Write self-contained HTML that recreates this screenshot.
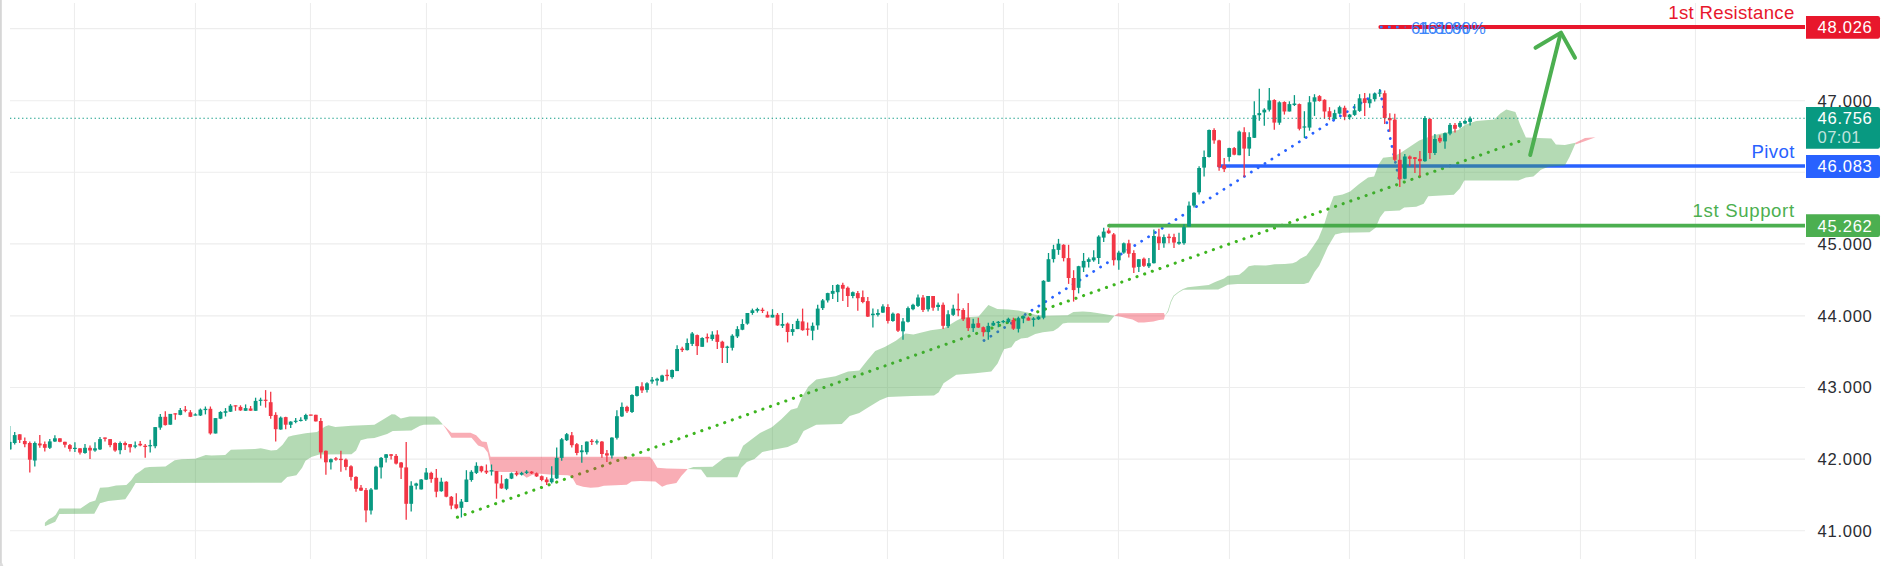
<!DOCTYPE html>
<html><head><meta charset="utf-8"><title>Chart</title>
<style>html,body{margin:0;padding:0;background:#fff;}body{width:1889px;height:566px;overflow:hidden;}svg{display:block;}text{font-family:"Liberation Sans",sans-serif;}</style></head><body>
<svg width="1889" height="566" viewBox="0 0 1889 566">
<rect x="0" y="0" width="1889" height="566" fill="#ffffff"/>
<rect x="0" y="0" width="1.8" height="566" fill="#d6d6d6"/><path d="M0,563 H2.2 Q2.8,565 3.4,566 H0 Z" fill="#dcdcdc"/>
<g stroke="#ededed" stroke-width="1.1">
<line x1="74.5" y1="3" x2="74.5" y2="559"/>
<line x1="195.5" y1="3" x2="195.5" y2="559"/>
<line x1="310.5" y1="3" x2="310.5" y2="559"/>
<line x1="426.5" y1="3" x2="426.5" y2="559"/>
<line x1="541.5" y1="3" x2="541.5" y2="559"/>
<line x1="651.5" y1="3" x2="651.5" y2="559"/>
<line x1="772.5" y1="3" x2="772.5" y2="559"/>
<line x1="887.5" y1="3" x2="887.5" y2="559"/>
<line x1="1003.5" y1="3" x2="1003.5" y2="559"/>
<line x1="1118.5" y1="3" x2="1118.5" y2="559"/>
<line x1="1229.5" y1="3" x2="1229.5" y2="559"/>
<line x1="1349.5" y1="3" x2="1349.5" y2="559"/>
<line x1="1464.5" y1="3" x2="1464.5" y2="559"/>
<line x1="1580.5" y1="3" x2="1580.5" y2="559"/>
<line x1="1695.5" y1="3" x2="1695.5" y2="559"/>
<line x1="10" y1="28.6" x2="1805" y2="28.6"/>
<line x1="10" y1="100.7" x2="1805" y2="100.7"/>
<line x1="10" y1="172.3" x2="1805" y2="172.3"/>
<line x1="10" y1="243.9" x2="1805" y2="243.9"/>
<line x1="10" y1="315.9" x2="1805" y2="315.9"/>
<line x1="10" y1="387.5" x2="1805" y2="387.5"/>
<line x1="10" y1="459.1" x2="1805" y2="459.1"/>
<line x1="10" y1="530.8" x2="1805" y2="530.8"/>
</g>
<line x1="457.4" y1="517.25" x2="1526.2" y2="138.9" stroke="#3db51f" stroke-width="3.1" stroke-linecap="round" stroke-dasharray="0.1 8"/>
<g stroke="#2962ff" stroke-width="2.8" stroke-linecap="round" stroke-dasharray="0.1 8" fill="none">
<line x1="984" y1="340.5" x2="1380" y2="91"/>
<line x1="1380" y1="91" x2="1400.4" y2="185.5"/>
</g>
<line x1="1380.4" y1="27.1" x2="1805" y2="27.1" stroke="#e8172c" stroke-width="4"/><circle cx="1380.4" cy="27.1" r="2" fill="#e8172c"/>
<line x1="1219" y1="166" x2="1805" y2="166" stroke="#2962ff" stroke-width="3.5"/><circle cx="1219" cy="166" r="1.75" fill="#2962ff"/>
<line x1="1109" y1="225.7" x2="1805" y2="225.7" stroke="#4caf50" stroke-width="3.8"/><circle cx="1109" cy="225.7" r="1.9" fill="#4caf50"/>
<polygon points="44.9,522.8 48.4,519.4 53.0,517.1 55.7,514.8 59.4,508.4 80.5,508.4 89.7,502.2 95.4,500.6 100.0,487.7 108.1,487.3 116.1,485.4 126.4,485.0 131.0,480.4 135.2,474.6 140.2,471.2 144.8,467.7 149.4,467.0 165.5,466.6 174.7,460.2 181.6,459.2 195.3,458.8 205.7,455.1 211.4,455.6 225.2,455.1 230.9,449.8 255.0,449.1 260.8,448.2 271.1,450.5 276.8,450.1 282.6,444.8 288.3,436.7 292.9,435.6 305.5,433.3 317.0,432.1 325.1,426.4 328.5,425.3 335.4,427.1 351.5,425.7 374.4,424.8 384.8,418.4 391.7,414.2 395.1,414.5 400.8,418.4 409.5,416.6 434.3,416.6 438.1,419.1 442.9,424.4 442.9,424.4 423.8,424.8 420.0,425.7 411.4,430.6 392.8,431.0 387.1,434.0 374.4,437.9 367.5,438.6 360.7,440.2 356.1,450.5 351.5,454.2 319.3,454.6 311.3,456.9 305.5,460.8 302.1,467.7 296.4,475.3 287.2,476.9 281.4,482.7 135.6,483.1 131.0,490.7 125.3,499.2 108.1,501.0 100.0,503.3 94.3,513.7 59.4,514.1 55.3,521.7 44.9,526.3" fill="rgba(67,163,67,0.4)"/>
<polygon points="442.9,424.4 451.5,432.8 470.5,432.8 476.2,435.3 482.0,441.5 486.7,441.9 490.5,456.8 649.7,456.8 652.5,459.5 657.3,467.7 666.8,468.6 687.7,469.0 687.7,469.0 681.1,476.2 676.4,482.9 666.8,484.8 662.1,486.7 655.4,481.6 640.1,481.0 631.6,481.6 626.8,484.8 603.9,485.8 598.2,487.3 590.6,487.7 583.0,486.7 576.3,484.8 571.5,476.2 567.7,475.3 552.5,474.7 537.2,473.4 531.5,475.3 526.7,477.8 522.0,474.3 514.4,472.0 502.9,472.0 491.5,471.5 489.6,461.0 487.7,452.4 483.9,447.6 478.1,445.4 471.5,437.7 451.5,437.7 445.7,428.6 442.9,424.4" fill="rgba(240,50,70,0.4)"/>
<polygon points="687.7,469.0 693.5,467.1 712.6,466.7 724.0,458.1 727.8,456.8 738.3,456.4 743.1,445.7 750.7,440.0 760.0,433.0 771.8,427.2 781.3,419.3 790.9,409.7 797.3,408.1 802.0,397.0 808.4,386.5 816.3,379.5 835.4,376.3 848.1,371.6 859.3,370.6 867.2,360.4 875.2,350.9 884.7,347.1 895.9,340.7 905.4,333.4 913.4,334.4 930.8,330.2 943.6,328.6 956.3,320.7 962.7,317.5 978.6,316.5 988.4,305.1 997.3,309.0 1008.6,309.5 1018.1,310.6 1027.6,312.5 1035.3,314.8 1044.8,315.8 1067.7,315.2 1073.4,311.9 1082.9,311.4 1090.5,311.9 1102.0,313.8 1114.4,315.8 1114.4,315.8 1111.5,319.6 1108.6,322.8 1067.7,322.8 1062.9,323.4 1058.1,328.1 1053.4,331.0 1042.9,332.3 1035.3,333.9 1027.6,337.7 1021.0,338.6 1015.3,341.5 1011.4,347.2 1004.0,349.3 997.6,363.6 991.3,371.6 975.4,373.2 956.3,374.7 943.6,383.3 938.8,392.2 934.0,395.4 911.8,396.1 887.9,397.0 879.9,400.2 867.2,408.1 859.3,412.9 849.7,416.1 841.8,424.0 816.3,424.7 803.6,431.0 797.3,442.5 787.7,446.9 771.8,450.1 762.3,452.0 754.5,459.1 746.9,461.9 741.2,467.7 737.3,477.2 706.8,477.2 701.1,469.6 687.7,469.0" fill="rgba(67,163,67,0.4)"/>
<polygon points="1114.4,315.8 1118.2,313.3 1163.9,312.9 1164.9,315.8 1164.9,315.8 1163.9,319.6 1159.2,320.1 1153.4,321.5 1143.9,322.4 1138.2,322.4 1132.5,319.6 1126.7,318.2 1121.0,316.7 1114.4,315.8" fill="rgba(240,50,70,0.4)"/>
<polygon points="1164.9,315.8 1167.7,311.0 1170.6,301.5 1173.4,295.7 1178.2,291.9 1183.0,289.1 1187.7,287.2 1208.7,284.9 1213.5,282.8 1216.3,281.4 1224.0,278.6 1227.8,275.7 1239.2,274.8 1244.0,271.0 1248.7,266.2 1254.4,265.2 1265.9,265.6 1274.5,264.3 1284.9,263.9 1292.6,263.3 1296.4,261.8 1300.2,258.8 1306.5,255.6 1312.5,247.2 1318.5,238.2 1324.6,223.2 1329.1,208.2 1333.6,196.2 1342.6,194.6 1350.1,191.6 1359.1,184.1 1368.1,177.5 1374.1,176.6 1378.6,164.6 1383.1,157.7 1393.7,156.5 1401.2,152.6 1410.2,146.6 1419.2,140.6 1431.2,136.1 1440.2,133.7 1458.3,130.0 1465.8,124.6 1476.3,121.0 1494.3,119.5 1500.3,113.5 1506.3,109.6 1515.4,112.0 1519.9,124.0 1525.9,137.6 1551.4,138.5 1555.9,144.5 1564.9,145.1 1575.5,142.7 1575.5,143.6 1569.5,157.1 1564.9,165.5 1548.4,166.7 1540.9,169.7 1533.4,176.6 1525.9,177.5 1518.4,180.5 1464.3,180.5 1459.8,188.6 1453.8,194.7 1428.2,196.2 1423.7,203.7 1416.2,206.7 1404.2,207.6 1399.7,210.6 1384.7,211.2 1380.1,217.2 1375.6,227.7 1369.6,232.2 1342.6,232.8 1335.1,234.6 1327.6,247.2 1323.0,257.6 1319.2,265.8 1314.5,271.9 1311.6,277.6 1308.8,282.4 1304.0,283.9 1237.3,283.9 1227.8,284.7 1223.0,287.2 1218.2,289.6 1183.5,289.8 1178.7,292.5 1174.0,296.2 1171.2,301.9 1168.3,311.4 1164.9,316.1" fill="rgba(67,163,67,0.4)"/>
<polygon points="1575.5,142.7 1585,138 1595.5,137.3 1586,140.8 1575.5,144.5" fill="rgba(240,50,70,0.4)"/>
<g clip-path="url(#plot)">
<defs><clipPath id="plot"><rect x="10" y="0" width="1795" height="566"/></clipPath></defs>
<line x1="9.7" y1="426.0" x2="9.7" y2="449.9" stroke="#089981" stroke-width="1.3"/>
<rect x="7.8" y="441.9" width="3.8" height="7.5" fill="#089981"/>
<line x1="14.7" y1="431.9" x2="14.7" y2="444.6" stroke="#089981" stroke-width="1.3"/>
<rect x="12.8" y="435.1" width="3.8" height="7.9" fill="#089981"/>
<line x1="19.7" y1="434.3" x2="19.7" y2="443.0" stroke="#f23645" stroke-width="1.3"/>
<rect x="17.8" y="434.3" width="3.8" height="5.6" fill="#f23645"/>
<line x1="24.8" y1="437.5" x2="24.8" y2="447.3" stroke="#f23645" stroke-width="1.3"/>
<rect x="22.9" y="441.0" width="3.8" height="3.2" fill="#f23645"/>
<line x1="29.8" y1="441.4" x2="29.8" y2="472.4" stroke="#f23645" stroke-width="1.3"/>
<rect x="27.9" y="443.0" width="3.8" height="16.7" fill="#f23645"/>
<line x1="34.8" y1="441.4" x2="34.8" y2="466.4" stroke="#089981" stroke-width="1.3"/>
<rect x="32.9" y="443.0" width="3.8" height="17.5" fill="#089981"/>
<line x1="39.8" y1="435.1" x2="39.8" y2="447.8" stroke="#f23645" stroke-width="1.3"/>
<rect x="37.9" y="443.5" width="3.8" height="1.9" fill="#f23645"/>
<line x1="44.8" y1="441.4" x2="44.8" y2="451.5" stroke="#f23645" stroke-width="1.3"/>
<rect x="42.9" y="444.1" width="3.8" height="3.7" fill="#f23645"/>
<line x1="49.8" y1="439.1" x2="49.8" y2="448.9" stroke="#089981" stroke-width="1.3"/>
<rect x="47.9" y="441.4" width="3.8" height="6.4" fill="#089981"/>
<line x1="54.9" y1="435.2" x2="54.9" y2="441.9" stroke="#089981" stroke-width="1.3"/>
<rect x="53.0" y="438.3" width="3.8" height="3.2" fill="#089981"/>
<line x1="59.9" y1="438.3" x2="59.9" y2="442.2" stroke="#f23645" stroke-width="1.3"/>
<rect x="58.0" y="438.3" width="3.8" height="3.5" fill="#f23645"/>
<line x1="64.9" y1="441.8" x2="64.9" y2="447.5" stroke="#f23645" stroke-width="1.3"/>
<rect x="63.0" y="441.8" width="3.8" height="2.9" fill="#f23645"/>
<line x1="69.9" y1="444.1" x2="69.9" y2="451.5" stroke="#f23645" stroke-width="1.3"/>
<rect x="68.0" y="445.1" width="3.8" height="3.8" fill="#f23645"/>
<line x1="74.9" y1="442.2" x2="74.9" y2="452.1" stroke="#089981" stroke-width="1.3"/>
<rect x="73.0" y="447.8" width="3.8" height="1.2" fill="#089981"/>
<line x1="80.0" y1="448.3" x2="80.0" y2="454.6" stroke="#f23645" stroke-width="1.3"/>
<rect x="78.1" y="448.3" width="3.8" height="4.3" fill="#f23645"/>
<line x1="85.0" y1="444.1" x2="85.0" y2="453.7" stroke="#089981" stroke-width="1.3"/>
<rect x="83.1" y="447.8" width="3.8" height="5.2" fill="#089981"/>
<line x1="90.0" y1="445.4" x2="90.0" y2="458.9" stroke="#f23645" stroke-width="1.3"/>
<rect x="88.1" y="447.8" width="3.8" height="2.7" fill="#f23645"/>
<line x1="95.0" y1="442.2" x2="95.0" y2="451.8" stroke="#089981" stroke-width="1.3"/>
<rect x="93.1" y="448.3" width="3.8" height="2.2" fill="#089981"/>
<line x1="100.0" y1="437.1" x2="100.0" y2="449.9" stroke="#089981" stroke-width="1.3"/>
<rect x="98.1" y="439.1" width="3.8" height="10.3" fill="#089981"/>
<line x1="105.0" y1="437.5" x2="105.0" y2="441.4" stroke="#f23645" stroke-width="1.3"/>
<rect x="103.1" y="437.5" width="3.8" height="1.3" fill="#f23645"/>
<line x1="110.1" y1="439.1" x2="110.1" y2="447.3" stroke="#f23645" stroke-width="1.3"/>
<rect x="108.2" y="439.1" width="3.8" height="6.0" fill="#f23645"/>
<line x1="115.1" y1="442.2" x2="115.1" y2="451.8" stroke="#f23645" stroke-width="1.3"/>
<rect x="113.2" y="443.0" width="3.8" height="7.5" fill="#f23645"/>
<line x1="120.1" y1="441.4" x2="120.1" y2="454.2" stroke="#089981" stroke-width="1.3"/>
<rect x="118.2" y="443.0" width="3.8" height="7.2" fill="#089981"/>
<line x1="125.1" y1="441.4" x2="125.1" y2="449.9" stroke="#f23645" stroke-width="1.3"/>
<rect x="123.2" y="443.0" width="3.8" height="2.1" fill="#f23645"/>
<line x1="130.1" y1="444.1" x2="130.1" y2="452.6" stroke="#f23645" stroke-width="1.3"/>
<rect x="128.2" y="444.1" width="3.8" height="3.2" fill="#f23645"/>
<line x1="135.2" y1="441.4" x2="135.2" y2="448.3" stroke="#089981" stroke-width="1.3"/>
<rect x="133.3" y="445.4" width="3.8" height="1.3" fill="#089981"/>
<line x1="140.2" y1="441.0" x2="140.2" y2="446.2" stroke="#f23645" stroke-width="1.3"/>
<rect x="138.3" y="443.8" width="3.8" height="1.6" fill="#f23645"/>
<line x1="145.2" y1="444.1" x2="145.2" y2="457.8" stroke="#f23645" stroke-width="1.3"/>
<rect x="143.3" y="445.7" width="3.8" height="1.3" fill="#f23645"/>
<line x1="150.2" y1="439.8" x2="150.2" y2="452.6" stroke="#089981" stroke-width="1.3"/>
<rect x="148.3" y="445.1" width="3.8" height="1.2" fill="#089981"/>
<line x1="155.2" y1="427.1" x2="155.2" y2="448.3" stroke="#089981" stroke-width="1.3"/>
<rect x="153.3" y="427.1" width="3.8" height="19.1" fill="#089981"/>
<line x1="160.3" y1="413.9" x2="160.3" y2="429.8" stroke="#089981" stroke-width="1.3"/>
<rect x="158.4" y="416.8" width="3.8" height="10.8" fill="#089981"/>
<line x1="165.3" y1="411.2" x2="165.3" y2="425.5" stroke="#f23645" stroke-width="1.3"/>
<rect x="163.4" y="416.8" width="3.8" height="8.3" fill="#f23645"/>
<line x1="170.3" y1="413.9" x2="170.3" y2="424.7" stroke="#089981" stroke-width="1.3"/>
<rect x="168.4" y="413.9" width="3.8" height="10.8" fill="#089981"/>
<line x1="175.3" y1="413.3" x2="175.3" y2="419.7" stroke="#f23645" stroke-width="1.3"/>
<rect x="173.4" y="413.3" width="3.8" height="1.2" fill="#f23645"/>
<line x1="180.3" y1="408.1" x2="180.3" y2="415.2" stroke="#089981" stroke-width="1.3"/>
<rect x="178.4" y="410.1" width="3.8" height="4.8" fill="#089981"/>
<line x1="185.3" y1="406.1" x2="185.3" y2="412.3" stroke="#f23645" stroke-width="1.3"/>
<rect x="183.4" y="409.6" width="3.8" height="1.2" fill="#f23645"/>
<line x1="190.4" y1="410.1" x2="190.4" y2="417.1" stroke="#f23645" stroke-width="1.3"/>
<rect x="188.5" y="412.3" width="3.8" height="4.5" fill="#f23645"/>
<line x1="195.4" y1="413.3" x2="195.4" y2="415.5" stroke="#089981" stroke-width="1.3"/>
<rect x="193.5" y="414.4" width="3.8" height="1.2" fill="#089981"/>
<line x1="200.4" y1="408.5" x2="200.4" y2="416.0" stroke="#089981" stroke-width="1.3"/>
<rect x="198.5" y="409.6" width="3.8" height="5.9" fill="#089981"/>
<line x1="205.4" y1="406.5" x2="205.4" y2="414.4" stroke="#089981" stroke-width="1.3"/>
<rect x="203.5" y="408.8" width="3.8" height="1.3" fill="#089981"/>
<line x1="210.4" y1="406.5" x2="210.4" y2="434.6" stroke="#f23645" stroke-width="1.3"/>
<rect x="208.5" y="408.8" width="3.8" height="24.6" fill="#f23645"/>
<line x1="215.5" y1="418.1" x2="215.5" y2="433.5" stroke="#089981" stroke-width="1.3"/>
<rect x="213.6" y="418.1" width="3.8" height="15.4" fill="#089981"/>
<line x1="220.5" y1="411.2" x2="220.5" y2="419.2" stroke="#089981" stroke-width="1.3"/>
<rect x="218.6" y="412.0" width="3.8" height="6.7" fill="#089981"/>
<line x1="225.5" y1="408.1" x2="225.5" y2="416.5" stroke="#089981" stroke-width="1.3"/>
<rect x="223.6" y="411.2" width="3.8" height="1.6" fill="#089981"/>
<line x1="230.5" y1="404.1" x2="230.5" y2="412.0" stroke="#089981" stroke-width="1.3"/>
<rect x="228.6" y="405.7" width="3.8" height="6.0" fill="#089981"/>
<line x1="235.5" y1="405.3" x2="235.5" y2="410.8" stroke="#f23645" stroke-width="1.3"/>
<rect x="233.6" y="405.3" width="3.8" height="1.2" fill="#f23645"/>
<line x1="240.5" y1="405.3" x2="240.5" y2="410.8" stroke="#f23645" stroke-width="1.3"/>
<rect x="238.6" y="406.9" width="3.8" height="3.5" fill="#f23645"/>
<line x1="245.6" y1="404.4" x2="245.6" y2="410.8" stroke="#089981" stroke-width="1.3"/>
<rect x="243.7" y="408.1" width="3.8" height="2.7" fill="#089981"/>
<line x1="250.6" y1="406.0" x2="250.6" y2="410.8" stroke="#f23645" stroke-width="1.3"/>
<rect x="248.7" y="408.5" width="3.8" height="2.2" fill="#f23645"/>
<line x1="255.6" y1="397.7" x2="255.6" y2="410.8" stroke="#089981" stroke-width="1.3"/>
<rect x="253.7" y="400.9" width="3.8" height="9.9" fill="#089981"/>
<line x1="260.6" y1="397.7" x2="260.6" y2="405.7" stroke="#089981" stroke-width="1.3"/>
<rect x="258.7" y="399.7" width="3.8" height="1.2" fill="#089981"/>
<line x1="265.6" y1="390.1" x2="265.6" y2="407.6" stroke="#f23645" stroke-width="1.3"/>
<rect x="263.7" y="399.7" width="3.8" height="1.2" fill="#f23645"/>
<line x1="270.7" y1="391.7" x2="270.7" y2="418.7" stroke="#f23645" stroke-width="1.3"/>
<rect x="268.8" y="402.2" width="3.8" height="13.8" fill="#f23645"/>
<line x1="275.7" y1="412.3" x2="275.7" y2="441.4" stroke="#f23645" stroke-width="1.3"/>
<rect x="273.8" y="414.9" width="3.8" height="14.3" fill="#f23645"/>
<line x1="280.7" y1="416.5" x2="280.7" y2="429.8" stroke="#089981" stroke-width="1.3"/>
<rect x="278.8" y="417.6" width="3.8" height="11.9" fill="#089981"/>
<line x1="285.7" y1="416.8" x2="285.7" y2="429.2" stroke="#f23645" stroke-width="1.3"/>
<rect x="283.8" y="417.1" width="3.8" height="7.6" fill="#f23645"/>
<line x1="290.7" y1="421.2" x2="290.7" y2="427.9" stroke="#089981" stroke-width="1.3"/>
<rect x="288.8" y="421.6" width="3.8" height="3.2" fill="#089981"/>
<line x1="295.7" y1="418.1" x2="295.7" y2="423.2" stroke="#089981" stroke-width="1.3"/>
<rect x="293.8" y="420.7" width="3.8" height="1.2" fill="#089981"/>
<line x1="300.8" y1="417.2" x2="300.8" y2="421.4" stroke="#089981" stroke-width="1.3"/>
<rect x="298.9" y="419.8" width="3.8" height="1.2" fill="#089981"/>
<line x1="305.8" y1="413.7" x2="305.8" y2="421.0" stroke="#089981" stroke-width="1.3"/>
<rect x="303.9" y="415.0" width="3.8" height="4.4" fill="#089981"/>
<line x1="310.8" y1="414.8" x2="310.8" y2="415.5" stroke="#f23645" stroke-width="1.3"/>
<rect x="308.9" y="414.5" width="3.8" height="1.2" fill="#f23645"/>
<line x1="315.8" y1="414.8" x2="315.8" y2="421.4" stroke="#f23645" stroke-width="1.3"/>
<rect x="313.9" y="414.8" width="3.8" height="6.6" fill="#f23645"/>
<line x1="320.8" y1="418.1" x2="320.8" y2="458.5" stroke="#f23645" stroke-width="1.3"/>
<rect x="318.9" y="421.0" width="3.8" height="31.4" fill="#f23645"/>
<line x1="325.9" y1="450.4" x2="325.9" y2="474.7" stroke="#f23645" stroke-width="1.3"/>
<rect x="324.0" y="450.8" width="3.8" height="11.5" fill="#f23645"/>
<line x1="330.9" y1="458.5" x2="330.9" y2="469.6" stroke="#089981" stroke-width="1.3"/>
<rect x="329.0" y="459.2" width="3.8" height="3.1" fill="#089981"/>
<line x1="335.9" y1="457.0" x2="335.9" y2="460.7" stroke="#f23645" stroke-width="1.3"/>
<rect x="334.0" y="458.3" width="3.8" height="1.3" fill="#f23645"/>
<line x1="340.9" y1="450.8" x2="340.9" y2="471.8" stroke="#f23645" stroke-width="1.3"/>
<rect x="339.0" y="458.8" width="3.8" height="1.3" fill="#f23645"/>
<line x1="345.9" y1="458.5" x2="345.9" y2="470.2" stroke="#f23645" stroke-width="1.3"/>
<rect x="344.0" y="459.6" width="3.8" height="7.3" fill="#f23645"/>
<line x1="351.0" y1="465.2" x2="351.0" y2="480.6" stroke="#f23645" stroke-width="1.3"/>
<rect x="349.1" y="466.3" width="3.8" height="10.6" fill="#f23645"/>
<line x1="356.0" y1="476.2" x2="356.0" y2="491.7" stroke="#f23645" stroke-width="1.3"/>
<rect x="354.1" y="476.9" width="3.8" height="11.9" fill="#f23645"/>
<line x1="361.0" y1="485.0" x2="361.0" y2="491.0" stroke="#f23645" stroke-width="1.3"/>
<rect x="359.1" y="487.7" width="3.8" height="2.9" fill="#f23645"/>
<line x1="366.0" y1="487.9" x2="366.0" y2="522.2" stroke="#f23645" stroke-width="1.3"/>
<rect x="364.1" y="490.1" width="3.8" height="20.3" fill="#f23645"/>
<line x1="371.0" y1="487.9" x2="371.0" y2="514.4" stroke="#089981" stroke-width="1.3"/>
<rect x="369.1" y="489.5" width="3.8" height="21.0" fill="#089981"/>
<line x1="376.0" y1="465.8" x2="376.0" y2="489.5" stroke="#089981" stroke-width="1.3"/>
<rect x="374.1" y="466.7" width="3.8" height="22.8" fill="#089981"/>
<line x1="381.1" y1="457.0" x2="381.1" y2="478.4" stroke="#089981" stroke-width="1.3"/>
<rect x="379.2" y="457.9" width="3.8" height="9.5" fill="#089981"/>
<line x1="386.1" y1="453.9" x2="386.1" y2="462.5" stroke="#089981" stroke-width="1.3"/>
<rect x="384.2" y="454.3" width="3.8" height="3.5" fill="#089981"/>
<line x1="391.1" y1="453.9" x2="391.1" y2="459.6" stroke="#f23645" stroke-width="1.3"/>
<rect x="389.2" y="454.3" width="3.8" height="1.5" fill="#f23645"/>
<line x1="396.1" y1="453.9" x2="396.1" y2="464.5" stroke="#f23645" stroke-width="1.3"/>
<rect x="394.2" y="455.9" width="3.8" height="7.7" fill="#f23645"/>
<line x1="401.1" y1="461.9" x2="401.1" y2="479.1" stroke="#f23645" stroke-width="1.3"/>
<rect x="399.2" y="462.5" width="3.8" height="5.1" fill="#f23645"/>
<line x1="406.2" y1="442.0" x2="406.2" y2="519.7" stroke="#f23645" stroke-width="1.3"/>
<rect x="404.3" y="467.4" width="3.8" height="36.4" fill="#f23645"/>
<line x1="411.2" y1="481.3" x2="411.2" y2="511.6" stroke="#089981" stroke-width="1.3"/>
<rect x="409.3" y="485.7" width="3.8" height="18.1" fill="#089981"/>
<line x1="416.2" y1="482.8" x2="416.2" y2="489.5" stroke="#089981" stroke-width="1.3"/>
<rect x="414.3" y="483.5" width="3.8" height="2.2" fill="#089981"/>
<line x1="421.2" y1="479.1" x2="421.2" y2="489.5" stroke="#089981" stroke-width="1.3"/>
<rect x="419.3" y="479.5" width="3.8" height="9.9" fill="#089981"/>
<line x1="426.2" y1="468.0" x2="426.2" y2="480.0" stroke="#089981" stroke-width="1.3"/>
<rect x="424.3" y="472.5" width="3.8" height="7.1" fill="#089981"/>
<line x1="431.2" y1="471.8" x2="431.2" y2="482.8" stroke="#f23645" stroke-width="1.3"/>
<rect x="429.3" y="472.9" width="3.8" height="6.2" fill="#f23645"/>
<line x1="436.3" y1="468.9" x2="436.3" y2="497.2" stroke="#f23645" stroke-width="1.3"/>
<rect x="434.4" y="477.8" width="3.8" height="13.9" fill="#f23645"/>
<line x1="441.3" y1="477.8" x2="441.3" y2="491.7" stroke="#089981" stroke-width="1.3"/>
<rect x="439.4" y="481.7" width="3.8" height="9.5" fill="#089981"/>
<line x1="446.3" y1="481.3" x2="446.3" y2="497.2" stroke="#f23645" stroke-width="1.3"/>
<rect x="444.4" y="481.7" width="3.8" height="15.0" fill="#f23645"/>
<line x1="451.3" y1="496.1" x2="451.3" y2="509.3" stroke="#f23645" stroke-width="1.3"/>
<rect x="449.4" y="496.8" width="3.8" height="8.8" fill="#f23645"/>
<line x1="456.3" y1="493.2" x2="456.3" y2="509.3" stroke="#f23645" stroke-width="1.3"/>
<rect x="454.4" y="504.3" width="3.8" height="4.0" fill="#f23645"/>
<line x1="461.4" y1="499.0" x2="461.4" y2="517.5" stroke="#089981" stroke-width="1.3"/>
<rect x="459.5" y="501.6" width="3.8" height="6.2" fill="#089981"/>
<line x1="466.4" y1="470.2" x2="466.4" y2="502.1" stroke="#089981" stroke-width="1.3"/>
<rect x="464.5" y="479.5" width="3.8" height="22.5" fill="#089981"/>
<line x1="471.4" y1="470.2" x2="471.4" y2="481.7" stroke="#089981" stroke-width="1.3"/>
<rect x="469.5" y="471.8" width="3.8" height="8.2" fill="#089981"/>
<line x1="476.4" y1="462.3" x2="476.4" y2="474.0" stroke="#089981" stroke-width="1.3"/>
<rect x="474.5" y="465.8" width="3.8" height="7.1" fill="#089981"/>
<line x1="481.4" y1="465.8" x2="481.4" y2="472.5" stroke="#f23645" stroke-width="1.3"/>
<rect x="479.5" y="466.3" width="3.8" height="4.9" fill="#f23645"/>
<line x1="486.4" y1="464.5" x2="486.4" y2="474.0" stroke="#f23645" stroke-width="1.3"/>
<rect x="484.5" y="470.7" width="3.8" height="1.8" fill="#f23645"/>
<line x1="491.5" y1="464.5" x2="491.5" y2="475.5" stroke="#089981" stroke-width="1.3"/>
<rect x="489.6" y="470.2" width="3.8" height="1.3" fill="#089981"/>
<line x1="496.5" y1="471.1" x2="496.5" y2="498.7" stroke="#f23645" stroke-width="1.3"/>
<rect x="494.6" y="471.1" width="3.8" height="12.4" fill="#f23645"/>
<line x1="501.5" y1="475.1" x2="501.5" y2="488.8" stroke="#f23645" stroke-width="1.3"/>
<rect x="499.6" y="483.5" width="3.8" height="4.9" fill="#f23645"/>
<line x1="506.5" y1="478.4" x2="506.5" y2="490.1" stroke="#089981" stroke-width="1.3"/>
<rect x="504.6" y="479.1" width="3.8" height="9.7" fill="#089981"/>
<line x1="511.5" y1="472.5" x2="511.5" y2="479.1" stroke="#089981" stroke-width="1.3"/>
<rect x="509.6" y="473.3" width="3.8" height="5.3" fill="#089981"/>
<line x1="516.6" y1="471.1" x2="516.6" y2="476.2" stroke="#f23645" stroke-width="1.3"/>
<rect x="514.7" y="472.9" width="3.8" height="1.8" fill="#f23645"/>
<line x1="521.6" y1="471.8" x2="521.6" y2="475.5" stroke="#089981" stroke-width="1.3"/>
<rect x="519.7" y="472.9" width="3.8" height="1.8" fill="#089981"/>
<line x1="526.6" y1="470.2" x2="526.6" y2="474.0" stroke="#089981" stroke-width="1.3"/>
<rect x="524.7" y="471.6" width="3.8" height="1.3" fill="#089981"/>
<line x1="531.6" y1="471.1" x2="531.6" y2="474.0" stroke="#f23645" stroke-width="1.3"/>
<rect x="529.7" y="471.6" width="3.8" height="1.8" fill="#f23645"/>
<line x1="536.6" y1="472.5" x2="536.6" y2="476.9" stroke="#f23645" stroke-width="1.3"/>
<rect x="534.7" y="473.3" width="3.8" height="3.1" fill="#f23645"/>
<line x1="541.7" y1="475.5" x2="541.7" y2="481.3" stroke="#f23645" stroke-width="1.3"/>
<rect x="539.8" y="476.2" width="3.8" height="3.8" fill="#f23645"/>
<line x1="546.7" y1="477.3" x2="546.7" y2="485.0" stroke="#f23645" stroke-width="1.3"/>
<rect x="544.8" y="479.5" width="3.8" height="2.7" fill="#f23645"/>
<line x1="551.7" y1="466.3" x2="551.7" y2="483.5" stroke="#089981" stroke-width="1.3"/>
<rect x="549.8" y="478.4" width="3.8" height="3.8" fill="#089981"/>
<line x1="556.7" y1="447.5" x2="556.7" y2="479.1" stroke="#089981" stroke-width="1.3"/>
<rect x="554.8" y="457.9" width="3.8" height="20.5" fill="#089981"/>
<line x1="561.7" y1="438.0" x2="561.7" y2="460.7" stroke="#089981" stroke-width="1.3"/>
<rect x="559.8" y="439.3" width="3.8" height="18.6" fill="#089981"/>
<line x1="566.7" y1="433.1" x2="566.7" y2="440.9" stroke="#089981" stroke-width="1.3"/>
<rect x="564.8" y="434.2" width="3.8" height="6.0" fill="#089981"/>
<line x1="571.8" y1="432.0" x2="571.8" y2="447.5" stroke="#f23645" stroke-width="1.3"/>
<rect x="569.9" y="435.3" width="3.8" height="9.9" fill="#f23645"/>
<line x1="576.8" y1="443.1" x2="576.8" y2="455.2" stroke="#f23645" stroke-width="1.3"/>
<rect x="574.9" y="444.2" width="3.8" height="8.8" fill="#f23645"/>
<line x1="581.8" y1="445.1" x2="581.8" y2="462.8" stroke="#089981" stroke-width="1.3"/>
<rect x="579.9" y="450.4" width="3.8" height="1.8" fill="#089981"/>
<line x1="586.8" y1="441.6" x2="586.8" y2="454.4" stroke="#089981" stroke-width="1.3"/>
<rect x="584.9" y="441.6" width="3.8" height="10.6" fill="#089981"/>
<line x1="591.8" y1="438.9" x2="591.8" y2="445.1" stroke="#f23645" stroke-width="1.3"/>
<rect x="589.9" y="440.7" width="3.8" height="1.3" fill="#f23645"/>
<line x1="596.9" y1="439.4" x2="596.9" y2="444.5" stroke="#089981" stroke-width="1.3"/>
<rect x="595.0" y="441.3" width="3.8" height="1.2" fill="#089981"/>
<line x1="601.9" y1="441.1" x2="601.9" y2="457.7" stroke="#f23645" stroke-width="1.3"/>
<rect x="600.0" y="441.6" width="3.8" height="12.4" fill="#f23645"/>
<line x1="606.9" y1="450.0" x2="606.9" y2="462.1" stroke="#f23645" stroke-width="1.3"/>
<rect x="605.0" y="453.3" width="3.8" height="2.2" fill="#f23645"/>
<line x1="611.9" y1="437.2" x2="611.9" y2="458.4" stroke="#089981" stroke-width="1.3"/>
<rect x="610.0" y="437.6" width="3.8" height="17.9" fill="#089981"/>
<line x1="616.9" y1="410.2" x2="616.9" y2="439.6" stroke="#089981" stroke-width="1.3"/>
<rect x="615.0" y="416.2" width="3.8" height="21.6" fill="#089981"/>
<line x1="621.9" y1="402.5" x2="621.9" y2="416.9" stroke="#089981" stroke-width="1.3"/>
<rect x="620.0" y="406.9" width="3.8" height="9.5" fill="#089981"/>
<line x1="627.0" y1="405.8" x2="627.0" y2="412.9" stroke="#f23645" stroke-width="1.3"/>
<rect x="625.1" y="406.9" width="3.8" height="4.4" fill="#f23645"/>
<line x1="632.0" y1="394.3" x2="632.0" y2="412.9" stroke="#089981" stroke-width="1.3"/>
<rect x="630.1" y="395.0" width="3.8" height="17.0" fill="#089981"/>
<line x1="637.0" y1="385.9" x2="637.0" y2="396.5" stroke="#089981" stroke-width="1.3"/>
<rect x="635.1" y="386.4" width="3.8" height="9.5" fill="#089981"/>
<line x1="642.0" y1="382.2" x2="642.0" y2="393.0" stroke="#f23645" stroke-width="1.3"/>
<rect x="640.1" y="386.4" width="3.8" height="4.0" fill="#f23645"/>
<line x1="647.0" y1="382.2" x2="647.0" y2="392.6" stroke="#089981" stroke-width="1.3"/>
<rect x="645.1" y="383.3" width="3.8" height="6.6" fill="#089981"/>
<line x1="652.1" y1="377.1" x2="652.1" y2="383.7" stroke="#089981" stroke-width="1.3"/>
<rect x="650.2" y="379.7" width="3.8" height="1.8" fill="#089981"/>
<line x1="657.1" y1="377.7" x2="657.1" y2="385.4" stroke="#089981" stroke-width="1.3"/>
<rect x="655.2" y="378.8" width="3.8" height="1.8" fill="#089981"/>
<line x1="662.1" y1="374.8" x2="662.1" y2="382.1" stroke="#089981" stroke-width="1.3"/>
<rect x="660.2" y="375.5" width="3.8" height="6.0" fill="#089981"/>
<line x1="667.1" y1="369.5" x2="667.1" y2="380.6" stroke="#f23645" stroke-width="1.3"/>
<rect x="665.2" y="374.8" width="3.8" height="1.3" fill="#f23645"/>
<line x1="672.1" y1="369.5" x2="672.1" y2="378.8" stroke="#089981" stroke-width="1.3"/>
<rect x="670.2" y="370.0" width="3.8" height="7.1" fill="#089981"/>
<line x1="677.1" y1="345.2" x2="677.1" y2="371.1" stroke="#089981" stroke-width="1.3"/>
<rect x="675.2" y="349.0" width="3.8" height="22.1" fill="#089981"/>
<line x1="682.2" y1="346.8" x2="682.2" y2="351.9" stroke="#f23645" stroke-width="1.3"/>
<rect x="680.3" y="348.6" width="3.8" height="1.5" fill="#f23645"/>
<line x1="687.2" y1="338.6" x2="687.2" y2="350.5" stroke="#089981" stroke-width="1.3"/>
<rect x="685.3" y="343.0" width="3.8" height="7.1" fill="#089981"/>
<line x1="692.2" y1="332.0" x2="692.2" y2="346.1" stroke="#089981" stroke-width="1.3"/>
<rect x="690.3" y="333.5" width="3.8" height="10.4" fill="#089981"/>
<line x1="697.2" y1="334.6" x2="697.2" y2="355.0" stroke="#f23645" stroke-width="1.3"/>
<rect x="695.3" y="335.1" width="3.8" height="11.0" fill="#f23645"/>
<line x1="702.2" y1="337.3" x2="702.2" y2="346.8" stroke="#089981" stroke-width="1.3"/>
<rect x="700.3" y="338.0" width="3.8" height="8.8" fill="#089981"/>
<line x1="707.3" y1="333.5" x2="707.3" y2="342.4" stroke="#f23645" stroke-width="1.3"/>
<rect x="705.4" y="336.9" width="3.8" height="1.5" fill="#f23645"/>
<line x1="712.3" y1="331.3" x2="712.3" y2="340.8" stroke="#089981" stroke-width="1.3"/>
<rect x="710.4" y="334.6" width="3.8" height="4.4" fill="#089981"/>
<line x1="717.3" y1="330.2" x2="717.3" y2="349.0" stroke="#f23645" stroke-width="1.3"/>
<rect x="715.4" y="334.6" width="3.8" height="7.3" fill="#f23645"/>
<line x1="722.3" y1="340.8" x2="722.3" y2="362.9" stroke="#f23645" stroke-width="1.3"/>
<rect x="720.4" y="341.7" width="3.8" height="6.2" fill="#f23645"/>
<line x1="727.3" y1="345.7" x2="727.3" y2="362.9" stroke="#089981" stroke-width="1.3"/>
<rect x="725.4" y="346.6" width="3.8" height="1.3" fill="#089981"/>
<line x1="732.3" y1="334.2" x2="732.3" y2="350.5" stroke="#089981" stroke-width="1.3"/>
<rect x="730.4" y="335.7" width="3.8" height="12.1" fill="#089981"/>
<line x1="737.4" y1="326.2" x2="737.4" y2="338.0" stroke="#089981" stroke-width="1.3"/>
<rect x="735.5" y="329.1" width="3.8" height="7.3" fill="#089981"/>
<line x1="742.4" y1="319.2" x2="742.4" y2="330.2" stroke="#089981" stroke-width="1.3"/>
<rect x="740.5" y="324.0" width="3.8" height="5.7" fill="#089981"/>
<line x1="747.4" y1="313.0" x2="747.4" y2="324.7" stroke="#089981" stroke-width="1.3"/>
<rect x="745.5" y="313.0" width="3.8" height="10.6" fill="#089981"/>
<line x1="752.4" y1="308.6" x2="752.4" y2="314.8" stroke="#089981" stroke-width="1.3"/>
<rect x="750.5" y="310.3" width="3.8" height="2.7" fill="#089981"/>
<line x1="757.4" y1="307.7" x2="757.4" y2="312.6" stroke="#089981" stroke-width="1.3"/>
<rect x="755.5" y="309.0" width="3.8" height="1.8" fill="#089981"/>
<line x1="762.5" y1="307.7" x2="762.5" y2="313.0" stroke="#f23645" stroke-width="1.3"/>
<rect x="760.6" y="309.7" width="3.8" height="1.3" fill="#f23645"/>
<line x1="767.5" y1="311.4" x2="767.5" y2="317.4" stroke="#f23645" stroke-width="1.3"/>
<rect x="765.6" y="314.8" width="3.8" height="2.7" fill="#f23645"/>
<line x1="772.5" y1="309.2" x2="772.5" y2="317.4" stroke="#089981" stroke-width="1.3"/>
<rect x="770.6" y="314.8" width="3.8" height="2.7" fill="#089981"/>
<line x1="777.5" y1="313.0" x2="777.5" y2="325.8" stroke="#f23645" stroke-width="1.3"/>
<rect x="775.6" y="314.8" width="3.8" height="10.6" fill="#f23645"/>
<line x1="782.5" y1="313.0" x2="782.5" y2="328.0" stroke="#089981" stroke-width="1.3"/>
<rect x="780.6" y="324.0" width="3.8" height="1.8" fill="#089981"/>
<line x1="787.6" y1="322.5" x2="787.6" y2="342.4" stroke="#f23645" stroke-width="1.3"/>
<rect x="785.7" y="323.6" width="3.8" height="8.4" fill="#f23645"/>
<line x1="792.6" y1="324.0" x2="792.6" y2="335.7" stroke="#089981" stroke-width="1.3"/>
<rect x="790.7" y="329.1" width="3.8" height="2.9" fill="#089981"/>
<line x1="797.6" y1="318.7" x2="797.6" y2="329.1" stroke="#089981" stroke-width="1.3"/>
<rect x="795.7" y="320.9" width="3.8" height="8.2" fill="#089981"/>
<line x1="802.6" y1="308.6" x2="802.6" y2="330.7" stroke="#f23645" stroke-width="1.3"/>
<rect x="800.7" y="321.4" width="3.8" height="8.8" fill="#f23645"/>
<line x1="807.6" y1="322.5" x2="807.6" y2="335.7" stroke="#f23645" stroke-width="1.3"/>
<rect x="805.7" y="328.5" width="3.8" height="1.3" fill="#f23645"/>
<line x1="812.6" y1="322.5" x2="812.6" y2="340.2" stroke="#089981" stroke-width="1.3"/>
<rect x="810.7" y="325.8" width="3.8" height="4.9" fill="#089981"/>
<line x1="817.7" y1="304.8" x2="817.7" y2="329.8" stroke="#089981" stroke-width="1.3"/>
<rect x="815.8" y="308.6" width="3.8" height="16.8" fill="#089981"/>
<line x1="822.7" y1="298.9" x2="822.7" y2="309.9" stroke="#089981" stroke-width="1.3"/>
<rect x="820.8" y="300.4" width="3.8" height="7.7" fill="#089981"/>
<line x1="827.7" y1="292.7" x2="827.7" y2="302.6" stroke="#089981" stroke-width="1.3"/>
<rect x="825.8" y="293.1" width="3.8" height="7.3" fill="#089981"/>
<line x1="832.7" y1="284.9" x2="832.7" y2="298.9" stroke="#089981" stroke-width="1.3"/>
<rect x="830.8" y="290.9" width="3.8" height="2.9" fill="#089981"/>
<line x1="837.7" y1="284.3" x2="837.7" y2="301.9" stroke="#089981" stroke-width="1.3"/>
<rect x="835.8" y="284.9" width="3.8" height="7.3" fill="#089981"/>
<line x1="842.8" y1="282.7" x2="842.8" y2="301.1" stroke="#f23645" stroke-width="1.3"/>
<rect x="840.9" y="284.9" width="3.8" height="3.8" fill="#f23645"/>
<line x1="847.8" y1="286.5" x2="847.8" y2="307.0" stroke="#f23645" stroke-width="1.3"/>
<rect x="845.9" y="287.8" width="3.8" height="8.2" fill="#f23645"/>
<line x1="852.8" y1="291.6" x2="852.8" y2="298.2" stroke="#089981" stroke-width="1.3"/>
<rect x="850.9" y="292.2" width="3.8" height="3.8" fill="#089981"/>
<line x1="857.8" y1="290.9" x2="857.8" y2="310.8" stroke="#f23645" stroke-width="1.3"/>
<rect x="855.9" y="293.1" width="3.8" height="5.1" fill="#f23645"/>
<line x1="862.8" y1="290.5" x2="862.8" y2="303.3" stroke="#f23645" stroke-width="1.3"/>
<rect x="860.9" y="297.1" width="3.8" height="4.9" fill="#f23645"/>
<line x1="867.8" y1="297.1" x2="867.8" y2="317.0" stroke="#f23645" stroke-width="1.3"/>
<rect x="865.9" y="301.1" width="3.8" height="15.5" fill="#f23645"/>
<line x1="872.9" y1="308.6" x2="872.9" y2="327.6" stroke="#089981" stroke-width="1.3"/>
<rect x="871.0" y="313.7" width="3.8" height="1.5" fill="#089981"/>
<line x1="877.9" y1="309.2" x2="877.9" y2="316.5" stroke="#089981" stroke-width="1.3"/>
<rect x="876.0" y="313.0" width="3.8" height="1.8" fill="#089981"/>
<line x1="882.9" y1="304.2" x2="882.9" y2="313.0" stroke="#089981" stroke-width="1.3"/>
<rect x="881.0" y="306.4" width="3.8" height="6.2" fill="#089981"/>
<line x1="887.9" y1="304.2" x2="887.9" y2="323.6" stroke="#f23645" stroke-width="1.3"/>
<rect x="886.0" y="307.0" width="3.8" height="13.9" fill="#f23645"/>
<line x1="892.9" y1="312.6" x2="892.9" y2="321.8" stroke="#089981" stroke-width="1.3"/>
<rect x="891.0" y="313.7" width="3.8" height="7.3" fill="#089981"/>
<line x1="898.0" y1="313.0" x2="898.0" y2="332.0" stroke="#f23645" stroke-width="1.3"/>
<rect x="896.1" y="313.7" width="3.8" height="17.0" fill="#f23645"/>
<line x1="903.0" y1="318.1" x2="903.0" y2="339.7" stroke="#089981" stroke-width="1.3"/>
<rect x="901.1" y="321.4" width="3.8" height="9.9" fill="#089981"/>
<line x1="908.0" y1="306.4" x2="908.0" y2="322.5" stroke="#089981" stroke-width="1.3"/>
<rect x="906.1" y="308.1" width="3.8" height="13.7" fill="#089981"/>
<line x1="913.0" y1="303.7" x2="913.0" y2="310.3" stroke="#089981" stroke-width="1.3"/>
<rect x="911.1" y="304.8" width="3.8" height="4.4" fill="#089981"/>
<line x1="918.0" y1="294.4" x2="918.0" y2="307.0" stroke="#089981" stroke-width="1.3"/>
<rect x="916.1" y="297.5" width="3.8" height="8.4" fill="#089981"/>
<line x1="923.0" y1="294.9" x2="923.0" y2="312.1" stroke="#f23645" stroke-width="1.3"/>
<rect x="921.1" y="297.5" width="3.8" height="12.4" fill="#f23645"/>
<line x1="928.1" y1="296.0" x2="928.1" y2="311.4" stroke="#089981" stroke-width="1.3"/>
<rect x="926.2" y="296.0" width="3.8" height="13.3" fill="#089981"/>
<line x1="933.1" y1="296.0" x2="933.1" y2="310.8" stroke="#f23645" stroke-width="1.3"/>
<rect x="931.2" y="296.0" width="3.8" height="11.7" fill="#f23645"/>
<line x1="938.1" y1="302.6" x2="938.1" y2="310.8" stroke="#089981" stroke-width="1.3"/>
<rect x="936.2" y="304.8" width="3.8" height="2.2" fill="#089981"/>
<line x1="943.1" y1="302.6" x2="943.1" y2="329.1" stroke="#f23645" stroke-width="1.3"/>
<rect x="941.2" y="304.8" width="3.8" height="21.0" fill="#f23645"/>
<line x1="948.1" y1="310.3" x2="948.1" y2="328.0" stroke="#089981" stroke-width="1.3"/>
<rect x="946.2" y="314.3" width="3.8" height="11.9" fill="#089981"/>
<line x1="953.2" y1="304.8" x2="953.2" y2="315.9" stroke="#089981" stroke-width="1.3"/>
<rect x="951.3" y="308.6" width="3.8" height="6.2" fill="#089981"/>
<line x1="958.2" y1="293.4" x2="958.2" y2="316.2" stroke="#f23645" stroke-width="1.3"/>
<rect x="956.3" y="308.9" width="3.8" height="1.5" fill="#f23645"/>
<line x1="963.2" y1="308.2" x2="963.2" y2="321.0" stroke="#f23645" stroke-width="1.3"/>
<rect x="961.3" y="310.0" width="3.8" height="9.3" fill="#f23645"/>
<line x1="968.2" y1="302.9" x2="968.2" y2="331.0" stroke="#f23645" stroke-width="1.3"/>
<rect x="966.3" y="317.7" width="3.8" height="10.4" fill="#f23645"/>
<line x1="973.2" y1="318.8" x2="973.2" y2="332.1" stroke="#089981" stroke-width="1.3"/>
<rect x="971.3" y="323.7" width="3.8" height="4.4" fill="#089981"/>
<line x1="978.3" y1="317.7" x2="978.3" y2="328.1" stroke="#f23645" stroke-width="1.3"/>
<rect x="976.4" y="323.2" width="3.8" height="4.4" fill="#f23645"/>
<line x1="983.3" y1="326.6" x2="983.3" y2="336.5" stroke="#f23645" stroke-width="1.3"/>
<rect x="981.4" y="327.2" width="3.8" height="4.9" fill="#f23645"/>
<line x1="988.3" y1="322.8" x2="988.3" y2="339.8" stroke="#089981" stroke-width="1.3"/>
<rect x="986.4" y="325.9" width="3.8" height="6.2" fill="#089981"/>
<line x1="993.3" y1="321.0" x2="993.3" y2="325.9" stroke="#089981" stroke-width="1.3"/>
<rect x="991.4" y="322.8" width="3.8" height="2.7" fill="#089981"/>
<line x1="998.3" y1="321.0" x2="998.3" y2="327.2" stroke="#089981" stroke-width="1.3"/>
<rect x="996.4" y="321.8" width="3.8" height="1.2" fill="#089981"/>
<line x1="1003.3" y1="319.9" x2="1003.3" y2="323.2" stroke="#089981" stroke-width="1.3"/>
<rect x="1001.4" y="321.0" width="3.8" height="1.2" fill="#089981"/>
<line x1="1008.4" y1="317.7" x2="1008.4" y2="323.2" stroke="#089981" stroke-width="1.3"/>
<rect x="1006.5" y="318.8" width="3.8" height="3.3" fill="#089981"/>
<line x1="1013.4" y1="317.7" x2="1013.4" y2="329.9" stroke="#f23645" stroke-width="1.3"/>
<rect x="1011.5" y="319.9" width="3.8" height="8.8" fill="#f23645"/>
<line x1="1018.4" y1="316.6" x2="1018.4" y2="332.5" stroke="#089981" stroke-width="1.3"/>
<rect x="1016.5" y="318.4" width="3.8" height="10.4" fill="#089981"/>
<line x1="1023.4" y1="315.5" x2="1023.4" y2="323.2" stroke="#089981" stroke-width="1.3"/>
<rect x="1021.5" y="316.2" width="3.8" height="2.2" fill="#089981"/>
<line x1="1028.4" y1="316.6" x2="1028.4" y2="320.6" stroke="#f23645" stroke-width="1.3"/>
<rect x="1026.5" y="317.7" width="3.8" height="2.9" fill="#f23645"/>
<line x1="1033.5" y1="317.1" x2="1033.5" y2="326.6" stroke="#089981" stroke-width="1.3"/>
<rect x="1031.6" y="318.4" width="3.8" height="1.5" fill="#089981"/>
<line x1="1038.5" y1="315.5" x2="1038.5" y2="319.9" stroke="#089981" stroke-width="1.3"/>
<rect x="1036.6" y="316.6" width="3.8" height="2.7" fill="#089981"/>
<line x1="1043.5" y1="280.2" x2="1043.5" y2="319.3" stroke="#089981" stroke-width="1.3"/>
<rect x="1041.6" y="280.8" width="3.8" height="36.9" fill="#089981"/>
<line x1="1048.5" y1="253.0" x2="1048.5" y2="281.7" stroke="#089981" stroke-width="1.3"/>
<rect x="1046.6" y="259.2" width="3.8" height="22.5" fill="#089981"/>
<line x1="1053.5" y1="244.8" x2="1053.5" y2="262.5" stroke="#089981" stroke-width="1.3"/>
<rect x="1051.6" y="249.2" width="3.8" height="9.9" fill="#089981"/>
<line x1="1058.5" y1="238.9" x2="1058.5" y2="254.8" stroke="#089981" stroke-width="1.3"/>
<rect x="1056.6" y="243.7" width="3.8" height="6.2" fill="#089981"/>
<line x1="1063.6" y1="244.2" x2="1063.6" y2="261.4" stroke="#f23645" stroke-width="1.3"/>
<rect x="1061.7" y="244.8" width="3.8" height="13.3" fill="#f23645"/>
<line x1="1068.6" y1="244.8" x2="1068.6" y2="283.9" stroke="#f23645" stroke-width="1.3"/>
<rect x="1066.7" y="258.1" width="3.8" height="19.9" fill="#f23645"/>
<line x1="1073.6" y1="270.2" x2="1073.6" y2="301.6" stroke="#f23645" stroke-width="1.3"/>
<rect x="1071.7" y="278.0" width="3.8" height="12.1" fill="#f23645"/>
<line x1="1078.6" y1="265.8" x2="1078.6" y2="293.4" stroke="#089981" stroke-width="1.3"/>
<rect x="1076.7" y="266.2" width="3.8" height="21.6" fill="#089981"/>
<line x1="1083.6" y1="253.0" x2="1083.6" y2="272.0" stroke="#089981" stroke-width="1.3"/>
<rect x="1081.7" y="260.9" width="3.8" height="6.6" fill="#089981"/>
<line x1="1088.7" y1="257.4" x2="1088.7" y2="267.6" stroke="#089981" stroke-width="1.3"/>
<rect x="1086.8" y="259.2" width="3.8" height="2.7" fill="#089981"/>
<line x1="1093.7" y1="250.3" x2="1093.7" y2="261.8" stroke="#089981" stroke-width="1.3"/>
<rect x="1091.8" y="257.4" width="3.8" height="2.9" fill="#089981"/>
<line x1="1098.7" y1="235.3" x2="1098.7" y2="264.0" stroke="#089981" stroke-width="1.3"/>
<rect x="1096.8" y="236.6" width="3.8" height="21.4" fill="#089981"/>
<line x1="1103.7" y1="227.8" x2="1103.7" y2="241.9" stroke="#089981" stroke-width="1.3"/>
<rect x="1101.8" y="231.6" width="3.8" height="6.0" fill="#089981"/>
<line x1="1108.7" y1="228.3" x2="1108.7" y2="233.8" stroke="#f23645" stroke-width="1.3"/>
<rect x="1106.8" y="230.5" width="3.8" height="2.7" fill="#f23645"/>
<line x1="1113.7" y1="233.1" x2="1113.7" y2="265.4" stroke="#f23645" stroke-width="1.3"/>
<rect x="1111.8" y="234.4" width="3.8" height="25.8" fill="#f23645"/>
<line x1="1118.8" y1="250.8" x2="1118.8" y2="269.8" stroke="#089981" stroke-width="1.3"/>
<rect x="1116.9" y="252.6" width="3.8" height="7.7" fill="#089981"/>
<line x1="1123.8" y1="242.6" x2="1123.8" y2="253.7" stroke="#089981" stroke-width="1.3"/>
<rect x="1121.9" y="243.3" width="3.8" height="9.3" fill="#089981"/>
<line x1="1128.8" y1="239.7" x2="1128.8" y2="257.4" stroke="#f23645" stroke-width="1.3"/>
<rect x="1126.9" y="243.3" width="3.8" height="10.4" fill="#f23645"/>
<line x1="1133.8" y1="250.3" x2="1133.8" y2="272.9" stroke="#f23645" stroke-width="1.3"/>
<rect x="1131.9" y="253.0" width="3.8" height="14.6" fill="#f23645"/>
<line x1="1138.8" y1="259.2" x2="1138.8" y2="272.0" stroke="#089981" stroke-width="1.3"/>
<rect x="1136.9" y="259.2" width="3.8" height="7.7" fill="#089981"/>
<line x1="1143.9" y1="257.4" x2="1143.9" y2="266.9" stroke="#f23645" stroke-width="1.3"/>
<rect x="1142.0" y="258.7" width="3.8" height="7.1" fill="#f23645"/>
<line x1="1148.9" y1="258.1" x2="1148.9" y2="268.0" stroke="#089981" stroke-width="1.3"/>
<rect x="1147.0" y="263.2" width="3.8" height="3.1" fill="#089981"/>
<line x1="1153.9" y1="229.4" x2="1153.9" y2="263.6" stroke="#089981" stroke-width="1.3"/>
<rect x="1152.0" y="236.0" width="3.8" height="27.2" fill="#089981"/>
<line x1="1158.9" y1="228.7" x2="1158.9" y2="249.9" stroke="#f23645" stroke-width="1.3"/>
<rect x="1157.0" y="236.6" width="3.8" height="6.6" fill="#f23645"/>
<line x1="1163.9" y1="234.4" x2="1163.9" y2="247.7" stroke="#089981" stroke-width="1.3"/>
<rect x="1162.0" y="237.1" width="3.8" height="6.2" fill="#089981"/>
<line x1="1169.0" y1="233.8" x2="1169.0" y2="243.3" stroke="#f23645" stroke-width="1.3"/>
<rect x="1167.1" y="236.6" width="3.8" height="1.5" fill="#f23645"/>
<line x1="1174.0" y1="233.8" x2="1174.0" y2="248.1" stroke="#f23645" stroke-width="1.3"/>
<rect x="1172.1" y="237.1" width="3.8" height="5.5" fill="#f23645"/>
<line x1="1179.0" y1="232.7" x2="1179.0" y2="244.8" stroke="#089981" stroke-width="1.3"/>
<rect x="1177.1" y="241.9" width="3.8" height="1.8" fill="#089981"/>
<line x1="1184.0" y1="224.3" x2="1184.0" y2="244.8" stroke="#089981" stroke-width="1.3"/>
<rect x="1182.1" y="227.1" width="3.8" height="16.1" fill="#089981"/>
<line x1="1189.0" y1="201.6" x2="1189.0" y2="226.6" stroke="#089981" stroke-width="1.3"/>
<rect x="1187.1" y="205.6" width="3.8" height="21.0" fill="#089981"/>
<line x1="1194.0" y1="192.3" x2="1194.0" y2="207.4" stroke="#089981" stroke-width="1.3"/>
<rect x="1192.1" y="192.8" width="3.8" height="12.8" fill="#089981"/>
<line x1="1199.1" y1="166.3" x2="1199.1" y2="194.6" stroke="#089981" stroke-width="1.3"/>
<rect x="1197.2" y="168.0" width="3.8" height="24.3" fill="#089981"/>
<line x1="1204.1" y1="150.4" x2="1204.1" y2="176.4" stroke="#089981" stroke-width="1.3"/>
<rect x="1202.2" y="157.0" width="3.8" height="10.6" fill="#089981"/>
<line x1="1209.1" y1="129.4" x2="1209.1" y2="157.4" stroke="#089981" stroke-width="1.3"/>
<rect x="1207.2" y="130.0" width="3.8" height="27.0" fill="#089981"/>
<line x1="1214.1" y1="128.3" x2="1214.1" y2="143.7" stroke="#f23645" stroke-width="1.3"/>
<rect x="1212.2" y="130.0" width="3.8" height="10.4" fill="#f23645"/>
<line x1="1219.1" y1="139.8" x2="1219.1" y2="170.7" stroke="#f23645" stroke-width="1.3"/>
<rect x="1217.2" y="140.4" width="3.8" height="26.5" fill="#f23645"/>
<line x1="1224.2" y1="158.1" x2="1224.2" y2="172.0" stroke="#f23645" stroke-width="1.3"/>
<rect x="1222.3" y="165.4" width="3.8" height="3.8" fill="#f23645"/>
<line x1="1229.2" y1="147.7" x2="1229.2" y2="161.4" stroke="#089981" stroke-width="1.3"/>
<rect x="1227.3" y="148.1" width="3.8" height="8.8" fill="#089981"/>
<line x1="1234.2" y1="147.0" x2="1234.2" y2="155.2" stroke="#f23645" stroke-width="1.3"/>
<rect x="1232.3" y="148.1" width="3.8" height="6.6" fill="#f23645"/>
<line x1="1239.2" y1="130.5" x2="1239.2" y2="155.2" stroke="#089981" stroke-width="1.3"/>
<rect x="1237.3" y="131.6" width="3.8" height="23.6" fill="#089981"/>
<line x1="1244.2" y1="127.2" x2="1244.2" y2="176.9" stroke="#f23645" stroke-width="1.3"/>
<rect x="1242.3" y="132.2" width="3.8" height="16.4" fill="#f23645"/>
<line x1="1249.2" y1="132.2" x2="1249.2" y2="155.9" stroke="#089981" stroke-width="1.3"/>
<rect x="1247.3" y="137.1" width="3.8" height="11.5" fill="#089981"/>
<line x1="1254.3" y1="101.3" x2="1254.3" y2="138.1" stroke="#089981" stroke-width="1.3"/>
<rect x="1252.4" y="115.2" width="3.8" height="22.6" fill="#089981"/>
<line x1="1259.3" y1="88.7" x2="1259.3" y2="120.8" stroke="#089981" stroke-width="1.3"/>
<rect x="1257.4" y="113.1" width="3.8" height="2.1" fill="#089981"/>
<line x1="1264.3" y1="108.2" x2="1264.3" y2="125.7" stroke="#089981" stroke-width="1.3"/>
<rect x="1262.4" y="109.7" width="3.8" height="2.7" fill="#089981"/>
<line x1="1269.3" y1="88.0" x2="1269.3" y2="111.5" stroke="#089981" stroke-width="1.3"/>
<rect x="1267.4" y="100.4" width="3.8" height="9.3" fill="#089981"/>
<line x1="1274.3" y1="99.2" x2="1274.3" y2="129.7" stroke="#f23645" stroke-width="1.3"/>
<rect x="1272.4" y="100.0" width="3.8" height="22.6" fill="#f23645"/>
<line x1="1279.4" y1="101.3" x2="1279.4" y2="124.8" stroke="#089981" stroke-width="1.3"/>
<rect x="1277.5" y="102.3" width="3.8" height="20.4" fill="#089981"/>
<line x1="1284.4" y1="101.3" x2="1284.4" y2="114.6" stroke="#f23645" stroke-width="1.3"/>
<rect x="1282.5" y="102.0" width="3.8" height="9.5" fill="#f23645"/>
<line x1="1289.4" y1="101.3" x2="1289.4" y2="111.5" stroke="#089981" stroke-width="1.3"/>
<rect x="1287.5" y="104.1" width="3.8" height="7.4" fill="#089981"/>
<line x1="1294.4" y1="95.1" x2="1294.4" y2="106.0" stroke="#089981" stroke-width="1.3"/>
<rect x="1292.5" y="103.5" width="3.8" height="1.5" fill="#089981"/>
<line x1="1299.4" y1="103.5" x2="1299.4" y2="130.4" stroke="#f23645" stroke-width="1.3"/>
<rect x="1297.5" y="104.1" width="3.8" height="24.7" fill="#f23645"/>
<line x1="1304.4" y1="111.2" x2="1304.4" y2="138.1" stroke="#089981" stroke-width="1.3"/>
<rect x="1302.5" y="126.4" width="3.8" height="1.2" fill="#089981"/>
<line x1="1309.5" y1="96.1" x2="1309.5" y2="130.7" stroke="#089981" stroke-width="1.3"/>
<rect x="1307.6" y="102.3" width="3.8" height="25.3" fill="#089981"/>
<line x1="1314.5" y1="94.2" x2="1314.5" y2="115.9" stroke="#089981" stroke-width="1.3"/>
<rect x="1312.6" y="97.3" width="3.8" height="4.3" fill="#089981"/>
<line x1="1319.5" y1="95.1" x2="1319.5" y2="101.6" stroke="#f23645" stroke-width="1.3"/>
<rect x="1317.6" y="96.1" width="3.8" height="4.9" fill="#f23645"/>
<line x1="1324.5" y1="99.2" x2="1324.5" y2="118.6" stroke="#f23645" stroke-width="1.3"/>
<rect x="1322.6" y="99.8" width="3.8" height="11.7" fill="#f23645"/>
<line x1="1329.5" y1="107.2" x2="1329.5" y2="120.2" stroke="#f23645" stroke-width="1.3"/>
<rect x="1327.6" y="111.2" width="3.8" height="5.7" fill="#f23645"/>
<line x1="1334.6" y1="109.7" x2="1334.6" y2="119.8" stroke="#089981" stroke-width="1.3"/>
<rect x="1332.7" y="113.1" width="3.8" height="5.8" fill="#089981"/>
<line x1="1339.6" y1="105.7" x2="1339.6" y2="114.6" stroke="#089981" stroke-width="1.3"/>
<rect x="1337.7" y="107.2" width="3.8" height="6.4" fill="#089981"/>
<line x1="1344.6" y1="105.7" x2="1344.6" y2="120.2" stroke="#f23645" stroke-width="1.3"/>
<rect x="1342.7" y="107.8" width="3.8" height="9.0" fill="#f23645"/>
<line x1="1349.6" y1="114.0" x2="1349.6" y2="119.6" stroke="#089981" stroke-width="1.3"/>
<rect x="1347.7" y="114.6" width="3.8" height="2.7" fill="#089981"/>
<line x1="1354.6" y1="104.1" x2="1354.6" y2="115.9" stroke="#089981" stroke-width="1.3"/>
<rect x="1352.7" y="110.3" width="3.8" height="4.6" fill="#089981"/>
<line x1="1359.6" y1="94.2" x2="1359.6" y2="111.9" stroke="#089981" stroke-width="1.3"/>
<rect x="1357.7" y="98.3" width="3.8" height="12.6" fill="#089981"/>
<line x1="1364.7" y1="93.0" x2="1364.7" y2="116.1" stroke="#f23645" stroke-width="1.3"/>
<rect x="1362.8" y="98.3" width="3.8" height="4.6" fill="#f23645"/>
<line x1="1369.7" y1="93.4" x2="1369.7" y2="107.8" stroke="#089981" stroke-width="1.3"/>
<rect x="1367.8" y="99.2" width="3.8" height="4.1" fill="#089981"/>
<line x1="1374.7" y1="92.4" x2="1374.7" y2="101.6" stroke="#089981" stroke-width="1.3"/>
<rect x="1372.8" y="93.6" width="3.8" height="5.6" fill="#089981"/>
<line x1="1379.7" y1="88.9" x2="1379.7" y2="96.7" stroke="#089981" stroke-width="1.3"/>
<rect x="1377.8" y="92.5" width="3.8" height="1.2" fill="#089981"/>
<line x1="1384.7" y1="90.4" x2="1384.7" y2="123.9" stroke="#f23645" stroke-width="1.3"/>
<rect x="1382.8" y="93.2" width="3.8" height="24.9" fill="#f23645"/>
<line x1="1389.8" y1="113.2" x2="1389.8" y2="131.7" stroke="#f23645" stroke-width="1.3"/>
<rect x="1387.9" y="118.0" width="3.8" height="2.3" fill="#f23645"/>
<line x1="1394.8" y1="113.8" x2="1394.8" y2="161.2" stroke="#f23645" stroke-width="1.3"/>
<rect x="1392.9" y="119.6" width="3.8" height="40.2" fill="#f23645"/>
<line x1="1399.8" y1="149.2" x2="1399.8" y2="187.1" stroke="#f23645" stroke-width="1.3"/>
<rect x="1397.9" y="159.8" width="3.8" height="19.4" fill="#f23645"/>
<line x1="1404.8" y1="154.0" x2="1404.8" y2="179.3" stroke="#089981" stroke-width="1.3"/>
<rect x="1402.9" y="156.5" width="3.8" height="22.2" fill="#089981"/>
<line x1="1409.8" y1="155.4" x2="1409.8" y2="166.3" stroke="#f23645" stroke-width="1.3"/>
<rect x="1407.9" y="156.5" width="3.8" height="2.3" fill="#f23645"/>
<line x1="1414.9" y1="156.9" x2="1414.9" y2="172.9" stroke="#f23645" stroke-width="1.3"/>
<rect x="1413.0" y="157.3" width="3.8" height="1.6" fill="#f23645"/>
<line x1="1419.9" y1="151.1" x2="1419.9" y2="176.4" stroke="#f23645" stroke-width="1.3"/>
<rect x="1418.0" y="158.9" width="3.8" height="2.3" fill="#f23645"/>
<line x1="1424.9" y1="116.1" x2="1424.9" y2="161.8" stroke="#089981" stroke-width="1.3"/>
<rect x="1423.0" y="118.0" width="3.8" height="43.2" fill="#089981"/>
<line x1="1429.9" y1="118.0" x2="1429.9" y2="158.9" stroke="#f23645" stroke-width="1.3"/>
<rect x="1428.0" y="119.0" width="3.8" height="34.0" fill="#f23645"/>
<line x1="1434.9" y1="134.0" x2="1434.9" y2="155.0" stroke="#089981" stroke-width="1.3"/>
<rect x="1433.0" y="139.0" width="3.8" height="14.0" fill="#089981"/>
<line x1="1439.9" y1="135.2" x2="1439.9" y2="142.9" stroke="#f23645" stroke-width="1.3"/>
<rect x="1438.0" y="137.9" width="3.8" height="3.5" fill="#f23645"/>
<line x1="1445.0" y1="132.6" x2="1445.0" y2="148.8" stroke="#089981" stroke-width="1.3"/>
<rect x="1443.1" y="133.2" width="3.8" height="8.2" fill="#089981"/>
<line x1="1450.0" y1="122.9" x2="1450.0" y2="135.2" stroke="#089981" stroke-width="1.3"/>
<rect x="1448.1" y="124.9" width="3.8" height="8.7" fill="#089981"/>
<line x1="1455.0" y1="122.9" x2="1455.0" y2="132.6" stroke="#f23645" stroke-width="1.3"/>
<rect x="1453.1" y="124.9" width="3.8" height="3.9" fill="#f23645"/>
<line x1="1460.0" y1="121.0" x2="1460.0" y2="128.2" stroke="#089981" stroke-width="1.3"/>
<rect x="1458.1" y="122.9" width="3.8" height="3.9" fill="#089981"/>
<line x1="1465.0" y1="119.6" x2="1465.0" y2="124.3" stroke="#089981" stroke-width="1.3"/>
<rect x="1463.1" y="121.0" width="3.8" height="2.5" fill="#089981"/>
<line x1="1470.1" y1="116.5" x2="1470.1" y2="125.4" stroke="#089981" stroke-width="1.3"/>
<rect x="1468.2" y="118.4" width="3.8" height="3.5" fill="#089981"/>
</g>
<line x1="10" y1="118.2" x2="1805" y2="118.2" stroke="#089981" stroke-width="1.15" stroke-dasharray="1.3 2.73"/>
<g fill="#2f7bff"><rect x="1380" y="25.8" width="2.6" height="2.6"/><rect x="1388" y="25.8" width="2.6" height="2.6"/><rect x="1396" y="25.8" width="2.6" height="2.6"/><rect x="1404.5" y="26.2" width="1.4" height="2" opacity="0.6"/></g>
<g fill="#2f7dfa" font-size="16.6px" opacity="0.92">
<text x="1411.0" y="34" textLength="57.5" lengthAdjust="spacing">61.80%</text>
<text x="1418.2" y="34" textLength="67.6" lengthAdjust="spacing">161.80%</text>
</g>
<g stroke="#4caf50" stroke-width="4" stroke-linecap="round" stroke-linejoin="round" fill="none">
<line x1="1530.2" y1="155" x2="1560.6" y2="33.5"/>
<polyline points="1535.5,47.8 1561,32.6 1575,57.8"/>
</g>
<g fill="#2b2d33" font-size="16.6px">
<text x="1817.6" y="106.7" textLength="54.2" lengthAdjust="spacing">47.000</text>
<text x="1817.6" y="178.4" textLength="54.2" lengthAdjust="spacing">46.000</text>
<text x="1817.6" y="250.1" textLength="54.2" lengthAdjust="spacing">45.000</text>
<text x="1817.6" y="321.8" textLength="54.2" lengthAdjust="spacing">44.000</text>
<text x="1817.6" y="393.4" textLength="54.2" lengthAdjust="spacing">43.000</text>
<text x="1817.6" y="465.1" textLength="54.2" lengthAdjust="spacing">42.000</text>
<text x="1817.6" y="536.8" textLength="54.2" lengthAdjust="spacing">41.000</text>
</g>
<path d="M1806,16 H1877.8 Q1880,16 1880,18.2 V36.5 Q1880,38.7 1877.8,38.7 H1806 Z" fill="#e8172c"/>
<path d="M1806,107 H1877.8 Q1880,107 1880,109.2 V146.5 Q1880,148.7 1877.8,148.7 H1806 Z" fill="#089981"/>
<path d="M1806,154.9 H1877.8 Q1880,154.9 1880,157.1 V175.8 Q1880,178.0 1877.8,178.0 H1806 Z" fill="#2962ff"/>
<path d="M1806,214.2 H1877.8 Q1880,214.2 1880,216.39999999999998 V234.8 Q1880,237 1877.8,237 H1806 Z" fill="#4caf50"/>
<g fill="#ffffff" font-size="16.6px">
<text x="1817.6" y="33.1" textLength="54.2" lengthAdjust="spacing">48.026</text>
<text x="1817.6" y="124" textLength="54.2" lengthAdjust="spacing">46.756</text>
<text x="1817.6" y="143" textLength="43" lengthAdjust="spacing" fill-opacity="0.75">07:01</text>
<text x="1817.6" y="172.1" textLength="54.2" lengthAdjust="spacing">46.083</text>
<text x="1817.6" y="231.6" textLength="54.2" lengthAdjust="spacing">45.262</text>
</g>
<text x="1668.3" y="18.8" font-size="18.6px" fill="#e8172c" textLength="126" lengthAdjust="spacing">1st Resistance</text>
<text x="1751.5" y="157.8" font-size="18.6px" fill="#2962ff" textLength="43" lengthAdjust="spacing">Pivot</text>
<text x="1692.6" y="216.7" font-size="18.6px" fill="#4caf50" textLength="101.5" lengthAdjust="spacing">1st Support</text>
</svg></body></html>
